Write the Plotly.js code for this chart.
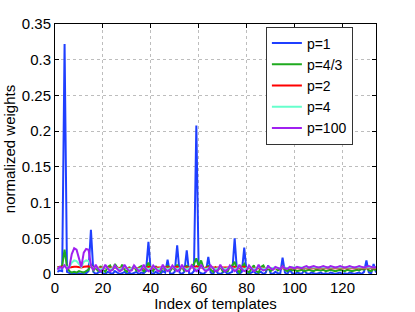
<!DOCTYPE html>
<html>
<head>
<meta charset="utf-8">
<script src="https://cdn.plot.ly/plotly-3.0.1.min.js"></script>
<style>html,body{margin:0;padding:0;background:#fff;}#chart{width:415px;height:312px;}</style>
</head>
<body>
<div id="chart"></div>
<script>
// normalized weights per template index (1..134)
const p1 = [
0.003,0.005,0.004,0.322,0.003,0.001,0.000,0.002,0.000,0.001,
0.000,0.002,0.001,0.004,0.062,0.003,0.000,0.002,0.004,0.001,
0.000,0.003,0.001,0.000,0.004,0.002,0.000,0.001,0.003,0.000,
0.002,0.000,0.001,0.003,0.000,0.002,0.001,0.004,0.045,0.002,
0.000,0.003,0.001,0.000,0.004,0.002,0.020,0.001,0.000,0.003,
0.040,0.002,0.000,0.003,0.033,0.001,0.000,0.004,0.208,0.003,
0.001,0.000,0.003,0.024,0.002,0.000,0.006,0.001,0.000,0.002,
0.004,0.000,0.001,0.003,0.050,0.002,0.000,0.003,0.037,0.001,
0.000,0.002,0.004,0.000,0.001,0.003,0.000,0.002,0.012,0.001,
0.000,0.003,0.001,0.000,0.023,0.002,0.000,0.006,0.001,0.000,
0.002,0.001,0.000,0.005,0.001,0.000,0.002,0.001,0.000,0.001,
0.002,0.000,0.001,0.000,0.002,0.001,0.000,0.001,0.002,0.000,
0.001,0.000,0.002,0.001,0.000,0.001,0.002,0.000,0.003,0.019,
0.002,0.001,0.014,0.002];
const p43 = [
0.010,0.009,0.012,0.034,0.010,0.004,0.002,0.003,0.002,0.004,
0.003,0.002,0.004,0.006,0.014,0.005,0.009,0.004,0.011,0.006,
0.003,0.010,0.012,0.005,0.014,0.008,0.004,0.013,0.006,0.003,
0.010,0.005,0.012,0.004,0.009,0.011,0.003,0.008,0.016,0.007,
0.004,0.011,0.006,0.003,0.010,0.005,0.012,0.004,0.009,0.006,
0.013,0.005,0.010,0.004,0.012,0.007,0.010,0.014,0.022,0.011,
0.019,0.008,0.005,0.012,0.006,0.003,0.009,0.005,0.010,0.004,
0.008,0.003,0.010,0.012,0.017,0.006,0.002,0.010,0.014,0.005,
0.002,0.008,0.012,0.004,0.002,0.010,0.012,0.005,0.008,0.004,
0.006,0.009,0.005,0.007,0.011,0.006,0.004,0.007,0.005,0.006,
0.004,0.005,0.006,0.004,0.005,0.006,0.005,0.004,0.006,0.005,
0.005,0.006,0.004,0.005,0.006,0.005,0.004,0.005,0.006,0.005,
0.004,0.006,0.005,0.004,0.005,0.006,0.005,0.007,0.006,0.009,
0.005,0.004,0.007,0.005];
const p2 = [
0.009,0.009,0.010,0.012,0.009,0.009,0.010,0.010,0.010,0.009,
0.009,0.010,0.010,0.010,0.011,0.009,0.009,0.008,0.009,0.009,
0.008,0.009,0.009,0.008,0.009,0.009,0.008,0.009,0.009,0.008,
0.009,0.008,0.009,0.009,0.008,0.009,0.009,0.008,0.010,0.009,
0.008,0.009,0.009,0.008,0.009,0.008,0.009,0.009,0.008,0.009,
0.010,0.008,0.009,0.009,0.009,0.008,0.009,0.009,0.011,0.009,
0.009,0.008,0.009,0.009,0.008,0.009,0.009,0.008,0.009,0.008,
0.009,0.008,0.009,0.009,0.010,0.008,0.008,0.009,0.010,0.008,
0.008,0.009,0.009,0.008,0.008,0.009,0.009,0.008,0.009,0.008,
0.008,0.009,0.008,0.008,0.009,0.008,0.008,0.009,0.008,0.008,
0.008,0.008,0.008,0.008,0.008,0.008,0.008,0.008,0.008,0.008,
0.008,0.008,0.008,0.008,0.008,0.008,0.008,0.008,0.008,0.008,
0.008,0.008,0.008,0.008,0.008,0.008,0.008,0.008,0.008,0.009,
0.008,0.008,0.009,0.008];
const p4 = [
0.008,0.009,0.008,0.012,0.009,0.010,0.016,0.019,0.018,0.014,
0.010,0.017,0.019,0.018,0.011,0.008,0.010,0.008,0.007,0.008,
0.010,0.008,0.007,0.008,0.010,0.008,0.007,0.008,0.010,0.008,
0.007,0.008,0.010,0.008,0.007,0.008,0.010,0.008,0.007,0.008,
0.010,0.008,0.007,0.008,0.010,0.008,0.007,0.008,0.010,0.008,
0.007,0.008,0.010,0.008,0.007,0.008,0.010,0.008,0.007,0.008,
0.010,0.008,0.007,0.008,0.010,0.008,0.007,0.008,0.010,0.008,
0.007,0.008,0.010,0.008,0.007,0.008,0.010,0.008,0.007,0.008,
0.010,0.008,0.007,0.008,0.010,0.008,0.007,0.008,0.009,0.008,
0.009,0.009,0.008,0.009,0.009,0.009,0.008,0.009,0.009,0.009,
0.010,0.009,0.009,0.010,0.010,0.010,0.009,0.010,0.010,0.009,
0.009,0.010,0.009,0.009,0.010,0.009,0.009,0.009,0.010,0.009,
0.009,0.009,0.010,0.009,0.009,0.009,0.010,0.009,0.009,0.009,
0.010,0.009,0.009,0.009];
const p100 = [
0.006,0.010,0.008,0.012,0.007,0.010,0.028,0.036,0.034,0.022,
0.010,0.030,0.035,0.034,0.012,0.005,0.013,0.007,0.004,0.006,
0.013,0.008,0.004,0.006,0.012,0.007,0.004,0.006,0.013,0.008,
0.004,0.005,0.012,0.008,0.004,0.006,0.013,0.007,0.004,0.006,
0.012,0.008,0.004,0.005,0.013,0.007,0.004,0.006,0.012,0.008,
0.004,0.006,0.013,0.007,0.004,0.005,0.012,0.008,0.004,0.006,
0.013,0.007,0.004,0.006,0.012,0.008,0.004,0.005,0.013,0.007,
0.004,0.006,0.012,0.008,0.004,0.006,0.013,0.007,0.004,0.005,
0.012,0.008,0.004,0.006,0.013,0.007,0.005,0.006,0.011,0.008,
0.006,0.010,0.008,0.007,0.011,0.008,0.007,0.010,0.009,0.008,
0.010,0.009,0.008,0.010,0.011,0.009,0.010,0.011,0.010,0.009,
0.010,0.011,0.010,0.009,0.011,0.010,0.009,0.010,0.011,0.010,
0.009,0.010,0.011,0.010,0.009,0.010,0.011,0.010,0.009,0.010,
0.011,0.010,0.009,0.010];
const seriesNames = ['p=1','p=4/3','p=2','p=4','p=100'];
const seriesColors = ['#1f3fff','#1faa1f','#ff0000','#66ffcc','#a020f0'];
const xTicks = [0,20,40,60,80,100,120];
const yTicks = [0,0.05,0.1,0.15,0.2,0.25,0.3,0.35];
const yTickText = ['0','0.05','0.1','0.15','0.2','0.25','0.3','0.35'];

const allSeries = [p1,p43,p2,p4,p100];
const traces = allSeries.map((ys,i)=>({
  x: ys.map((_,k)=>k+1),
  y: ys,
  type:'scatter', mode:'lines',
  name: seriesNames[i],
  line:{color:seriesColors[i], width:2}
}));
const font = {family:'Liberation Sans, Arial, sans-serif', size:15, color:'#000'};
const legendFont = {family:'Liberation Sans, Arial, sans-serif', size:14, color:'#000'};
const axisCommon = {
  showline:true, linecolor:'#000', linewidth:1, mirror:'ticks',
  ticks:'inside', ticklen:4, tickcolor:'#000',
  showgrid:true, gridcolor:'#bdbdbd', griddash:'dot', gridwidth:1,
  zeroline:false, tickfont:font
};
const layout = {
  width:415, height:312,
  margin:{l:55, r:39, t:24, b:38},
  paper_bgcolor:'#fff', plot_bgcolor:'#fff',
  font:font,
  showlegend:true,
  xaxis: Object.assign({}, axisCommon, {
    range:[0,134], tickvals:xTicks,
    title:{text:'Index of templates', font:font, standoff:0}
  }),
  yaxis: Object.assign({}, axisCommon, {
    range:[0,0.35], tickvals:yTicks, ticktext:yTickText,
    title:{text:'normalized weights', font:font, standoff:2}
  }),
  legend:{x:0.657, y:0.99, xanchor:'left', yanchor:'top',
    bgcolor:'#fff', bordercolor:'#333', borderwidth:1, font:legendFont,
    tracegroupgap:0}
};
Plotly.newPlot('chart', traces, layout, {staticPlot:true, displayModeBar:false});
</script>
</body>
</html>
